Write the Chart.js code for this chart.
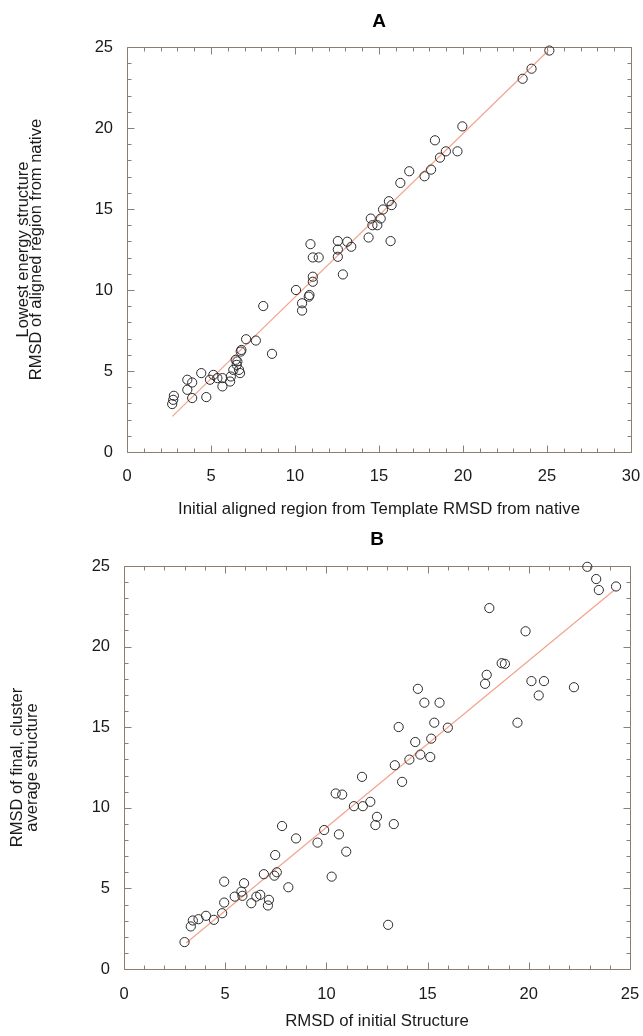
<!DOCTYPE html>
<html>
<head>
<meta charset="utf-8">
<script src="https://cdn.jsdelivr.net/npm/chart.js@4.4.1/dist/chart.umd.min.js"></script>
<style>
  html, body { margin: 0; padding: 0; background: #ffffff; }
  #wrapA { position: absolute; left: 0; top: 0; width: 643px; height: 525px; }
  #wrapB { position: absolute; left: 0; top: 525px; width: 643px; height: 511px; }
</style>
</head>
<body>
<div id="wrapA"><canvas id="chartA"></canvas></div>
<div id="wrapB"><canvas id="chartB"></canvas></div>
<script>
// ---------- Panel A data ----------
const aX = [2.69, 2.75, 2.79, 3.59, 3.59, 3.88, 3.88, 4.42, 4.72, 4.94, 5.14, 5.38, 5.68, 5.68, 6.14, 6.18, 6.33, 6.47, 6.53, 6.57, 6.67, 6.73, 6.77, 6.81, 7.09, 7.67, 8.11, 8.63, 10.06, 10.42, 10.42, 10.82, 10.86, 11.06, 11.06, 10.92, 11.06, 11.41, 12.55, 12.55, 12.55, 12.85, 13.11, 13.35, 14.38, 14.51, 14.61, 14.9, 15.1, 15.24, 15.59, 15.75, 15.69, 16.27, 16.8, 17.71, 18.1, 18.33, 18.63, 18.98, 19.67, 19.96, 23.55, 24.08, 25.14];
const aY = [2.96, 3.22, 3.47, 3.84, 4.46, 4.29, 3.33, 4.87, 3.39, 4.46, 4.76, 4.56, 4.56, 4.05, 4.35, 4.66, 5.07, 5.69, 5.38, 5.59, 5.07, 4.87, 6.2, 6.3, 6.96, 6.88, 9.01, 6.06, 10.0, 9.18, 8.73, 9.59, 9.69, 10.51, 10.82, 12.83, 12.01, 12.01, 12.05, 12.5, 13.02, 10.96, 12.98, 12.67, 13.24, 14.41, 14.0, 14.0, 14.41, 14.97, 15.48, 15.24, 13.02, 16.61, 17.33, 17.02, 17.43, 19.24, 18.17, 18.56, 18.56, 20.1, 23.04, 23.66, 24.78];
const aFitX = [2.7, 25.1];
const aFitY = [2.2, 24.8];
const aXTicks = [0, 5, 10, 15, 20, 25, 30];
const aYTicks = [0, 5, 10, 15, 20, 25];

// ---------- Panel B data ----------
const bX = [2.99, 3.3, 3.4, 3.68, 4.05, 4.44, 4.85, 4.95, 4.95, 5.47, 5.8, 5.85, 5.93, 6.29, 6.54, 6.73, 7.16, 7.11, 6.91, 7.43, 7.55, 7.47, 8.12, 7.81, 8.5, 9.56, 9.89, 10.26, 10.46, 10.78, 10.62, 10.98, 11.36, 11.76, 11.8, 12.17, 12.42, 12.5, 13.33, 13.05, 13.38, 13.57, 13.74, 14.1, 14.39, 14.52, 14.64, 14.84, 15.13, 15.18, 15.33, 15.59, 16.0, 17.84, 17.92, 18.05, 18.66, 18.82, 19.44, 19.84, 20.13, 20.49, 20.75, 22.23, 22.89, 23.33, 23.46, 24.31];
const bY = [1.67, 2.64, 3.01, 3.09, 3.3, 3.05, 3.46, 4.12, 5.42, 4.49, 4.8, 4.54, 5.32, 4.08, 4.49, 4.6, 4.29, 3.94, 5.88, 5.79, 6.0, 7.07, 5.07, 8.87, 8.1, 7.84, 8.62, 5.73, 10.89, 10.82, 8.35, 7.28, 10.1, 11.92, 10.1, 10.37, 8.93, 9.44, 8.99, 2.74, 12.64, 15.01, 11.61, 12.99, 14.08, 17.38, 13.3, 16.52, 13.15, 14.29, 15.28, 16.52, 14.97, 17.69, 18.25, 22.39, 18.97, 18.93, 15.28, 20.95, 17.86, 16.97, 17.86, 17.48, 24.95, 24.19, 23.51, 23.73];
const bFitX = [3.07, 24.23];
const bFitY = [1.61, 23.51];
const bXTicks = [0, 5, 10, 15, 20, 25];
const bYTicks = [0, 5, 10, 15, 20, 25];

const MINOR_STEP = 1;
const MAJOR_STEP = 5;

const FONT = "'Liberation Sans', Arial, Helvetica, sans-serif";
const TEXT = '#1a1a1a';
const FRAME = '#8c7f70';

const toPts = (xs, ys) => xs.map((x, i) => ({ x: x, y: ys[i] }));

// frame with inward major/minor ticks on all four sides, drawn through the scales
const frameTicks = {
  id: 'frameTicks',
  beforeDatasetsDraw(chart) {
    const { ctx, chartArea: ca } = chart;
    const xs = chart.scales.x, ys = chart.scales.y;
    const L = Math.round(ca.left) + 0.5, R = Math.round(ca.right) + 0.5;
    const T = Math.round(ca.top) + 0.5, B = Math.round(ca.bottom) + 0.5;
    ctx.save();
    ctx.strokeStyle = FRAME;
    ctx.lineWidth = 1;
    ctx.beginPath();
    ctx.rect(L, T, R - L, B - T);
    ctx.stroke();
    ctx.beginPath();
    for (let v = xs.min; v <= xs.max + 1e-9; v += MINOR_STEP) {
      const p = Math.round(xs.getPixelForValue(v)) + 0.5;
      const len = (Math.abs(v % MAJOR_STEP) < 1e-9) ? 7 : 4;
      ctx.moveTo(p, B); ctx.lineTo(p, B - len);
      ctx.moveTo(p, T); ctx.lineTo(p, T + len);
    }
    for (let v = ys.min; v <= ys.max + 1e-9; v += MINOR_STEP) {
      const p = Math.round(ys.getPixelForValue(v)) + 0.5;
      const len = (Math.abs(v % MAJOR_STEP) < 1e-9) ? 7 : 4;
      ctx.moveTo(L, p); ctx.lineTo(L + len, p);
      ctx.moveTo(R, p); ctx.lineTo(R - len, p);
    }
    ctx.stroke();
    ctx.restore();
  }
};

function makeChart(id, cfg) {
  const tickFont = { family: FONT, size: 16.5 };
  return new Chart(document.getElementById(id), {
    type: 'scatter',
    data: {
      datasets: [
        {
          type: 'line',
          data: toPts(cfg.fitX, cfg.fitY),
          borderColor: '#f3a38c',
          borderWidth: 1.2,
          pointRadius: 0,
          fill: false,
          order: 2
        },
        {
          data: toPts(cfg.xs, cfg.ys),
          pointStyle: 'circle',
          pointRadius: 4.6,
          pointBorderWidth: 1,
          pointBorderColor: '#2b2b2b',
          pointBackgroundColor: 'rgba(255,255,255,0)',
          clip: false,
          order: 1
        }
      ]
    },
    options: {
      responsive: true,
      maintainAspectRatio: false,
      animation: false,
      layout: { padding: { left: 0, right: cfg.padRight, top: 0, bottom: 0 } },
      plugins: {
        legend: { display: false },
        tooltip: { enabled: false },
        title: {
          display: true,
          text: cfg.title,
          fullSize: false,
          color: '#000',
          font: { family: FONT, size: 19, weight: 'bold', lineHeight: 1.2 },
          padding: { top: cfg.titleTop, bottom: cfg.titleBottom }
        }
      },
      scales: {
        x: {
          type: 'linear',
          min: cfg.xTicks[0],
          max: cfg.xTicks[cfg.xTicks.length - 1],
          afterBuildTicks: (s) => { s.ticks = cfg.xTicks.map(v => ({ value: v })); },
          afterFit: (s) => { s.height = cfg.xAxisHeight; s.paddingLeft = 0; s.paddingRight = 0; },
          grid: { display: false, drawTicks: false },
          border: { display: false },
          ticks: { font: tickFont, color: TEXT, padding: cfg.xTickPad, maxRotation: 0 },
          title: {
            display: true,
            text: cfg.xTitle,
            color: TEXT,
            font: { family: FONT, size: 16.8, lineHeight: 1.2 },
            padding: { top: 0, bottom: cfg.xTitleBottom }
          }
        },
        y: {
          type: 'linear',
          min: cfg.yTicks[0],
          max: cfg.yTicks[cfg.yTicks.length - 1],
          afterBuildTicks: (s) => { s.ticks = cfg.yTicks.map(v => ({ value: v })); },
          afterFit: (s) => { s.width = cfg.yAxisWidth; s.paddingTop = 0; s.paddingBottom = 0; },
          grid: { display: false, drawTicks: false },
          border: { display: false },
          ticks: { font: tickFont, color: TEXT, padding: 14 },
          title: {
            display: true,
            text: cfg.yTitle,
            color: TEXT,
            font: { family: FONT, size: 16.5, lineHeight: cfg.yTitleLH },
            padding: { top: cfg.yTitleTop, bottom: 0 }
          }
        }
      }
    },
    plugins: [frameTicks]
  });
}

makeChart('chartA', {
  xs: aX, ys: aY, fitX: aFitX, fitY: aFitY,
  xTicks: aXTicks, yTicks: aYTicks,
  title: 'A',
  titleTop: 10, titleBottom: 14.2,
  padRight: 12,
  yAxisWidth: 127,
  xAxisHeight: 73,
  xTickPad: 14.5,
  xTitleBottom: 5.4,
  xTitle: 'Initial aligned region from Template RMSD from native',
  yTitle: ['Lowest energy structure', 'RMSD of aligned region from native'],
  yTitleLH: 0.82,
  yTitleTop: 16.6
});

makeChart('chartB', {
  xs: bX, ys: bY, fitX: bFitX, fitY: bFitY,
  xTicks: bXTicks, yTicks: bYTicks,
  title: 'B',
  titleTop: 3.6, titleBottom: 14.6,
  padRight: 13,
  yAxisWidth: 124,
  xAxisHeight: 67,
  xTickPad: 15.5,
  xTitleBottom: 4.4,
  xTitle: 'RMSD of initial Structure',
  yTitle: ['RMSD of final, cluster', 'average structure'],
  yTitleLH: 0.91,
  yTitleTop: 9.5
});
</script>
</body>
</html>
